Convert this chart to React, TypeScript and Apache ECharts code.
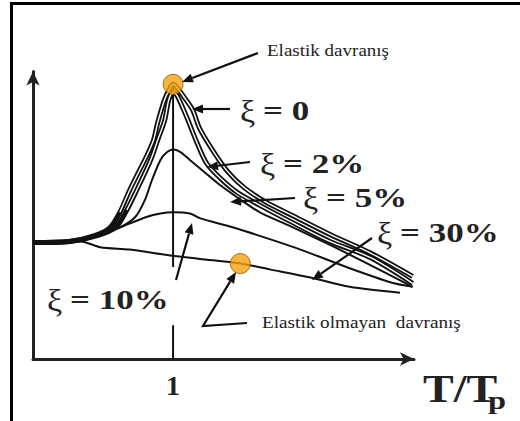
import React, { useEffect, useRef } from "react";
import * as echarts from "echarts";

// x = T/Tp, y = response ratio (baseline = 1)
const XI_0: number[][] = [
  [0, 1.0], [0.26, 1.01], [0.44, 1.06], [0.55, 1.13], [0.62, 1.26], [0.69, 1.45], [0.76, 1.62],
  [0.81, 1.74], [0.86, 1.88], [0.89, 2.03], [0.94, 2.23], [0.98, 2.33], [1.0, 2.36], [1.03, 2.33],
  [1.09, 2.23], [1.14, 2.14], [1.19, 1.98], [1.29, 1.78], [1.39, 1.61], [1.51, 1.47], [1.66, 1.35],
  [1.84, 1.24], [2.12, 1.07], [2.41, 0.91], [2.71, 0.71],
];
const XI_2: number[][] = [
  [0, 1.0], [0.26, 1.01], [0.46, 1.06], [0.59, 1.13], [0.67, 1.28], [0.74, 1.45], [0.84, 1.71],
  [0.89, 1.88], [0.94, 2.05], [0.97, 2.23], [1.0, 2.29], [1.03, 2.26], [1.1, 2.07], [1.17, 1.86],
  [1.24, 1.68], [1.34, 1.55], [1.46, 1.43], [1.62, 1.32], [1.84, 1.18], [2.12, 1.01], [2.41, 0.87],
  [2.71, 0.65],
];
const XI_5: number[][] = [
  [0, 1.0], [0.26, 1.01], [0.48, 1.07], [0.62, 1.13], [0.73, 1.22], [0.8, 1.37], [0.85, 1.54],
  [0.91, 1.71], [0.95, 1.77], [1.0, 1.8], [1.05, 1.78], [1.12, 1.71], [1.21, 1.62], [1.34, 1.49],
  [1.48, 1.37], [1.62, 1.26], [1.84, 1.14], [2.12, 0.98], [2.37, 0.83], [2.71, 0.62],
];
const XI_10: number[][] = [
  [0, 1.0], [0.26, 1.01], [0.44, 1.05], [0.62, 1.13], [0.81, 1.22], [0.91, 1.25], [1.0, 1.26],
  [1.12, 1.25], [1.19, 1.21], [1.43, 1.13], [1.69, 1.03], [1.91, 0.94], [2.26, 0.78], [2.55, 0.66],
  [2.71, 0.62],
];
const XI_30: number[][] = [
  [0, 1.0], [0.34, 1.01], [0.48, 0.96], [0.69, 0.94], [0.98, 0.89], [1.19, 0.86], [1.48, 0.82],
  [1.69, 0.77], [1.98, 0.7], [2.26, 0.62], [2.62, 0.57],
];
const ELASTIC_POINT: number[][] = [[1.0, 2.36]];
const INELASTIC_POINT: number[][] = [[1.48, 0.82]];
const VLINE_LOW: number[][] = [[1, 0], [1, 0.29]];
const VLINE_HIGH: number[][] = [[1, 0.79], [1, 2.33]];
const XI_SYMBOL = "ξ";
const XI_LABELS = ["0", "2%", "5%", "10%", "30%"];
const X_TICK_LABEL = "1";
const X_AXIS_NAME = "T/T";
const X_AXIS_SUB = "p";
const ELASTIC_TEXT = "Elastik davranış";
const INELASTIC_TEXT = "Elastik olmayan  davranış";

const SERIF = "Liberation Serif";
const INK = "#111";
const TEXT = "#222";

function arrow(x1: number, y1: number, x2: number, y2: number, len = 11, hw = 4.5) {
  const a = Math.atan2(y2 - y1, x2 - x1);
  const bx = x2 - len * Math.cos(a);
  const by = y2 - len * Math.sin(a);
  const px = -Math.sin(a) * hw;
  const py = Math.cos(a) * hw;
  return [
    { type: "line", z: 50, shape: { x1, y1, x2: bx, y2: by }, style: { stroke: INK, lineWidth: 2.2 } },
    {
      type: "polygon",
      z: 50,
      shape: { points: [[x2, y2], [bx + px, by + py], [bx - px, by - py]] },
      style: { fill: INK },
    },
  ];
}

function xiLabel(x: number, y: number, val: string) {
  return [
    {
      type: "text",
      x,
      y: y + 1,
      scaleX: 1.1,
      z: 60,
      style: { text: XI_SYMBOL, fontSize: 31, fontFamily: SERIF, fill: TEXT, verticalAlign: "middle" },
    },
    {
      type: "text",
      x: x + 23,
      y,
      scaleX: 1.25,
      z: 60,
      style: {
        text: `= ${val}`,
        fontSize: 28,
        fontWeight: "bold",
        fontFamily: SERIF,
        fill: TEXT,
        verticalAlign: "middle",
      },
    },
  ];
}

function curve(data: number[][], width: number, color = INK, z = 2) {
  return {
    type: "line",
    data,
    showSymbol: false,
    smooth: 0.3,
    silent: true,
    z,
    lineStyle: { color, width },
  };
}

export default function App() {
  const ref = useRef<HTMLDivElement>(null);
  useEffect(() => {
    if (!ref.current) return;
    const chart = echarts.init(ref.current, null, { renderer: "svg" });
    const inner = (d: number[][]) => d.filter((p) => p[0] >= 0.6);
    const headA = Math.atan2(272 - 326, 236 - 203);
    const hx = 236 - 11 * Math.cos(headA);
    const hy = 272 - 11 * Math.sin(headA);
    const option: any = {
      animation: false,
      backgroundColor: "#fff",
      grid: { left: 33, right: 106, top: 71.5, bottom: 62, outerBoundsMode: "none" },
      xAxis: {
        type: "value",
        min: 0,
        max: 2.72,
        interval: 1,
        splitLine: { show: false },
        axisTick: { show: false },
        axisLine: {
          symbol: ["none", "arrow"],
          symbolSize: [10, 14],
          lineStyle: { color: "#222", width: 3 },
        },
        axisLabel: {
          formatter: (v: number) => (v === 1 ? X_TICK_LABEL : ""),
          fontSize: 28,
          fontWeight: "bold",
          fontFamily: SERIF,
          color: TEXT,
          margin: 26,
          verticalAlign: "middle",
          showMaxLabel: false,
        },
      },
      yAxis: {
        type: "value",
        min: 0,
        max: 2.47,
        splitLine: { show: false },
        axisTick: { show: false },
        axisLabel: { show: false },
        axisLine: {
          symbol: ["none", "arrow"],
          symbolSize: [10, 14],
          lineStyle: { color: "#222", width: 3 },
        },
      },
      series: [
        curve(VLINE_LOW, 2),
        curve(VLINE_HIGH, 2),
        curve(XI_30, 2),
        curve(XI_10, 2),
        curve(XI_5, 2),
        curve(XI_2, 5),
        curve(XI_0, 5),
        curve(inner(XI_2), 1.4, "#fff", 3),
        curve(inner(XI_0), 1.4, "#fff", 3),
        {
          type: "scatter",
          data: [...ELASTIC_POINT, ...INELASTIC_POINT],
          symbolSize: 20,
          z: 10,
          silent: true,
          itemStyle: { color: "#F5A30F", borderColor: "#8a5a00", borderWidth: 1 },
        },
      ],
      graphic: {
        elements: [
          { type: "line", shape: { x1: 11.5, y1: 2, x2: 11.5, y2: 421 }, style: { stroke: "#000", lineWidth: 3 } },
          { type: "line", shape: { x1: 10, y1: 3.5, x2: 520, y2: 3.5 }, style: { stroke: "#000", lineWidth: 3 } },
          ...arrow(258, 53, 182, 82),
          ...arrow(230, 109, 192, 109),
          ...arrow(250, 162, 207, 167),
          ...arrow(295, 198, 230, 202),
          ...arrow(372, 238, 312, 280),
          ...arrow(176, 280, 192, 223),
          {
            type: "polyline",
            z: 50,
            shape: { points: [[247, 323], [203, 326], [hx, hy]] },
            style: { stroke: INK, lineWidth: 2.2, fill: null },
          },
          {
            type: "polygon",
            z: 50,
            shape: {
              points: [
                [236, 272],
                [hx - Math.sin(headA) * 4.5, hy + Math.cos(headA) * 4.5],
                [hx + Math.sin(headA) * 4.5, hy - Math.cos(headA) * 4.5],
              ],
            },
            style: { fill: INK },
          },
          ...xiLabel(240, 111, XI_LABELS[0]),
          ...xiLabel(260, 164, XI_LABELS[1]),
          ...xiLabel(303, 198, XI_LABELS[2]),
          ...xiLabel(47, 300, XI_LABELS[3]),
          ...xiLabel(377, 233, XI_LABELS[4]),
          {
            type: "text",
            x: 267,
            y: 50,
            scaleX: 1.12,
            z: 60,
            style: { text: ELASTIC_TEXT, fontSize: 17, fontFamily: SERIF, fill: TEXT, verticalAlign: "middle" },
          },
          {
            type: "text",
            x: 262,
            y: 322,
            scaleX: 1.13,
            z: 60,
            style: { text: INELASTIC_TEXT, fontSize: 17, fontFamily: SERIF, fill: TEXT, verticalAlign: "middle" },
          },
          {
            type: "text",
            x: 423,
            y: 388.5,
            scaleX: 1.15,
            z: 60,
            style: { text: X_AXIS_NAME, fontSize: 40, fontWeight: "bold", fontFamily: SERIF, fill: TEXT, verticalAlign: "middle" },
          },
          {
            type: "text",
            x: 488,
            y: 400,
            scaleX: 1.3,
            z: 61,
            style: { text: X_AXIS_SUB, fontSize: 25, fontWeight: "bold", fontFamily: SERIF, fill: TEXT, verticalAlign: "middle" },
          },
        ],
      },
    };
    chart.setOption(option);
    return () => chart.dispose();
  }, []);
  return (
    <div
      ref={ref}
      style={{ position: "fixed", left: 0, top: 0, width: 520, height: 421, background: "#fff" }}
    />
  );
}
